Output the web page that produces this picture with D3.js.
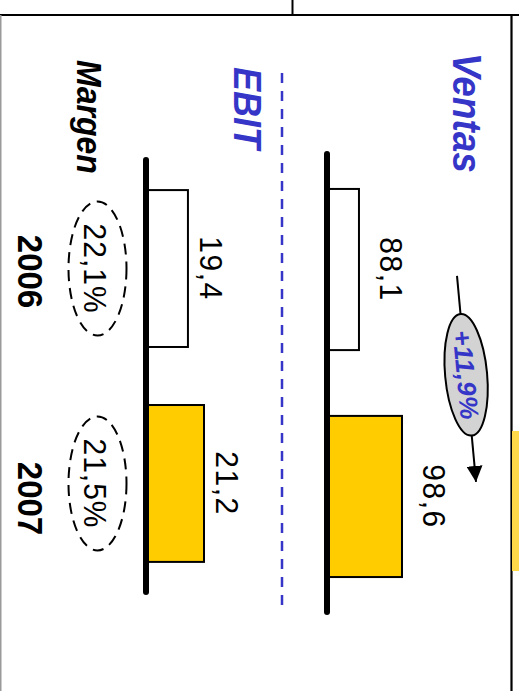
<!DOCTYPE html>
<html>
<head>
<meta charset="utf-8">
<script src="https://cdn.jsdelivr.net/npm/d3@7"></script>
<style>
  body { margin: 0; background: #fff; }
  svg { display: block; font-family: "Liberation Sans", Arial, sans-serif; }
</style>
</head>
<body>
<div id="chart"></div>
<script>
// Ventas / EBIT 2006-2007, drawn turned 90 degrees clockwise like the slide

const YEARS = ["2006", "2007"]
const VENTAS = [88.1, 98.6]
const EBIT = [19.4, 21.2]
const MARGEN = [22.1, 21.5]
const GROWTH = 11.9
const TITLES = {ventas: "Ventas", ebit: "EBIT", margen: "Margen"}

const WIDTH = 519
const HEIGHT = 691
const BLUE = "#3535C8"
const GOLD = "#FFCC00"
const FONT_VALUE = 30

const es = d3.formatLocale({decimal: ",", thousands: ".", grouping: [3], currency: ["", "€"]})
const fmt = es.format(".1f")

const svg = d3.select("#chart")
  .append("svg")
    .attr("width", WIDTH)
    .attr("height", HEIGHT)

// FRAME
svg.append("line").attr("x1", 0).attr("x2", WIDTH).attr("y1", 15).attr("y2", 15)
  .attr("stroke", "#000").attr("stroke-width", 2)
svg.append("line").attr("x1", 292.5).attr("x2", 292.5).attr("y1", 0).attr("y2", 15)
  .attr("stroke", "#000").attr("stroke-width", 2)
svg.append("line").attr("x1", 0.75).attr("x2", 0.75).attr("y1", 15).attr("y2", HEIGHT)
  .attr("stroke", "#9a9a9a").attr("stroke-width", 1.5)
svg.append("line").attr("x1", 511.5).attr("x2", 511.5).attr("y1", 15).attr("y2", HEIGHT)
  .attr("stroke", "#000").attr("stroke-width", 2.2)
svg.append("rect").attr("x", 512).attr("y", 431).attr("width", 7).attr("height", 140)
  .attr("fill", "#FFD94A")

// rotated text helper: reads top to bottom, glyph tops point right
// sy stretches the glyph height a bit, the slide was scaled unevenly
function vtext(x, y, txt, size, opts) {
  opts = opts || {}
  return svg.append("text")
    .attr("transform", "translate(" + x + "," + y + ") rotate(" + (opts.angle || 90) + ")"
      + " scale(1," + (opts.sy || 1.07) + ")")
    .attr("text-anchor", opts.anchor || "middle")
    .attr("fill", opts.fill || "#000")
    .style("font-size", size + "px")
    .style("font-weight", opts.bold ? "bold" : "normal")
    .style("font-style", opts.italic ? "italic" : "normal")
    .style("letter-spacing", (opts.ls || 0) + "px")
    .text(txt)
}

// SCALES (value runs to the right, years run downward)
const yVentas = d3.scaleBand().domain(YEARS).range([154, 612])
  .paddingInner(0.29).paddingOuter(0.154)
const yEbit = d3.scaleBand().domain(YEARS).range([160, 592])
  .paddingInner(0.27).paddingOuter(0.14)

const xVentas = d3.scaleLinear().domain([80.3, 98.6]).range([327, 402])
const xEbit = d3.scaleLinear().domain([14.7, 21.2]).range([146, 204])

function drawPanel(values, x, y, labelGap) {
  const base = x.range()[0]
  const g = svg.append("g")

  g.selectAll("rect")
    .data(values)
    .enter()
    .append("rect")
      .attr("x", base)
      .attr("y", (d, i) => y(YEARS[i]))
      .attr("width", d => x(d) - base)
      .attr("height", y.bandwidth())
      .attr("fill", (d, i) => i === 0 ? "#fff" : GOLD)
      .attr("stroke", "#000")
      .attr("stroke-width", 2)

  g.append("line")
    .attr("x1", base).attr("x2", base)
    .attr("y1", y.range()[0]).attr("y2", y.range()[1])
    .attr("stroke", "#000")
    .attr("stroke-width", 6)
    .attr("stroke-linecap", "round")

  values.forEach((v, i) => {
    vtext(x(v) + labelGap, y(YEARS[i]) + y.bandwidth() / 2, fmt(v), FONT_VALUE, {ls: 1.5})
  })
}

drawPanel(VENTAS, xVentas, yVentas, 21)
drawPanel(EBIT, xEbit, yEbit, 12)

// separator between the two panels
svg.append("line")
  .attr("x1", 282).attr("x2", 282).attr("y1", 73).attr("y2", 606)
  .attr("stroke", BLUE).attr("stroke-width", 2.5).attr("stroke-dasharray", "10,8")

// TITLES
vtext(453, 53, TITLES.ventas, 37, {anchor: "start", bold: true, italic: true, fill: BLUE, sy: 1.12})
vtext(234, 67, TITLES.ebit, 36, {anchor: "start", bold: true, italic: true, fill: BLUE})
vtext(77, 60, TITLES.margen, 32, {anchor: "start", bold: true, italic: true})

// YEARS
YEARS.forEach(yr => {
  vtext(18, yVentas(yr) + yVentas.bandwidth() / 2 + 2, yr, 33, {bold: true})
})

// MARGEN ellipses
MARGEN.forEach((m, i) => {
  const cy = yEbit(YEARS[i]) + yEbit.bandwidth() / 2
  svg.append("ellipse")
    .attr("cx", 97.5).attr("cy", cy).attr("rx", 29).attr("ry", 67)
    .attr("fill", "none").attr("stroke", "#000")
    .attr("stroke-width", 2).attr("stroke-dasharray", "11,7")
  vtext(84, cy, fmt(m) + "%", 30, {ls: 1})
})

// GROWTH ARROW
svg.append("defs").append("marker")
    .attr("id", "arrow")
    .attr("viewBox", "0 0 10 10")
    .attr("refX", 10).attr("refY", 5)
    .attr("markerWidth", 8).attr("markerHeight", 8)
    .attr("markerUnits", "strokeWidth")
    .attr("orient", "auto")
  .append("path")
    .attr("d", "M0,0 L10,5 L0,10 Z")
    .attr("fill", "#000")

const aStart = [457, yVentas(YEARS[0]) + 87]
const aEnd = [476, yVentas(YEARS[1]) + 66]
svg.append("line")
  .attr("x1", aStart[0]).attr("y1", aStart[1])
  .attr("x2", aEnd[0]).attr("y2", aEnd[1])
  .attr("stroke", "#000").attr("stroke-width", 2)
  .attr("marker-end", "url(#arrow)")

const angle = Math.atan2(aEnd[1] - aStart[1], aEnd[0] - aStart[0]) * 180 / Math.PI
const t = 0.48
const mid = [aStart[0] + t * (aEnd[0] - aStart[0]), aStart[1] + t * (aEnd[1] - aStart[1])]
const bubble = svg.append("g")
  .attr("transform", "translate(" + mid[0] + "," + mid[1] + ") rotate(" + angle + ")")
bubble.append("ellipse")
  .attr("rx", 61).attr("ry", 21)
  .attr("fill", "#D3D3D3").attr("stroke", "#000").attr("stroke-width", 2)
bubble.append("text")
  .attr("text-anchor", "middle")
  .attr("dy", "0.36em")
  .attr("fill", BLUE)
  .style("font-size", "26px")
  .style("font-weight", "bold")
  .style("font-style", "italic")
  .style("letter-spacing", "0.5px")
  .text("+" + fmt(GROWTH) + "%")
</script>
</body>
</html>
